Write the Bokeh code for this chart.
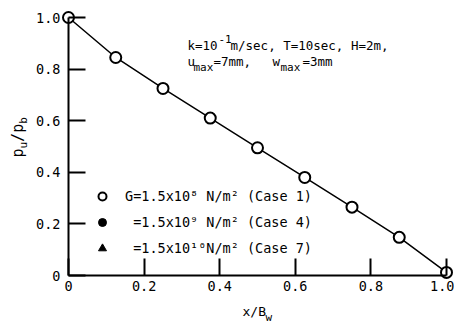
import math
from bokeh.plotting import figure
from bokeh.models import LinearAxis, FixedTicker, Label, Legend, LegendItem, Range1d
from bokeh.embed import file_html
from bokeh.resources import INLINE

# ---- data ----
# the three cases give coincident results; open circles (Case 1) are drawn on top
x_ratio = [0.0, 0.125, 0.25, 0.375, 0.5, 0.625, 0.75, 0.875, 1.0]
p_ratio = [1.0, 0.845, 0.725, 0.61, 0.495, 0.38, 0.265, 0.148, 0.012]
x_ticks = [0, 0.2, 0.4, 0.6, 0.8, 1.0]
y_ticks = [0, 0.2, 0.4, 0.6, 0.8, 1.0]
tick_labels = ["0", "0.2", "0.4", "0.6", "0.8", "1.0"]
legend_labels = [
    "G=1.5x10\u2078 N/m\u00b2 (Case 1)",
    "\u00a0=1.5x10\u2079 N/m\u00b2 (Case 4)",
    "\u00a0=1.5x10\u00b9\u2070N/m\u00b2 (Case 7)",
]

FONT = "DejaVu Sans Mono"
W, H = 454, 328
X0, XS = 68, 378   # canvas px of x=0, px per unit
Y0, YS = 275, 258  # canvas px of y=0, px per unit


def dx(cx):
    return (cx - X0) / XS


def dy(cy):
    return (Y0 - cy) / YS


p = figure(width=W, height=H, output_backend="svg", toolbar_location=None,
           x_range=Range1d(dx(0), dx(W)), y_range=Range1d(dy(H), dy(0)),
           x_axis_type=None, y_axis_type=None,
           min_border_left=0, min_border_right=0, min_border_top=0,
           min_border_bottom=0)
p.outline_line_color = None
p.grid.visible = False
p.background_fill_color = "white"
p.border_fill_color = "white"


def style_axis(ax, standoff):
    ax.axis_line_width = 2
    ax.axis_line_color = "black"
    ax.major_tick_line_width = 2
    ax.major_tick_line_color = "black"
    ax.major_tick_in = 17
    ax.major_tick_out = 0
    ax.minor_tick_line_color = None
    ax.major_label_text_font = FONT
    ax.major_label_text_font_size = "13.5px"
    ax.major_label_text_color = "black"
    ax.major_label_standoff = standoff


xaxis = LinearAxis(fixed_location=0, bounds=(0, 1),
                   ticker=FixedTicker(ticks=x_ticks),
                   major_label_overrides={t: l for t, l in zip(x_ticks, tick_labels)})
yaxis = LinearAxis(fixed_location=0, bounds=(0, 1),
                   ticker=FixedTicker(ticks=y_ticks),
                   major_label_overrides={t: l for t, l in zip(y_ticks, tick_labels)})
style_axis(xaxis, 5)
style_axis(yaxis, 8)
p.add_layout(xaxis, "below")
p.add_layout(yaxis, "left")

r7 = p.scatter(x_ratio, p_ratio, marker="triangle", size=9, fill_color="black",
               line_color="black", line_width=1)
r4 = p.scatter(x_ratio, p_ratio, marker="circle", size=10, fill_color="black",
               line_color="black", line_width=1)
p.line(x_ratio, p_ratio, line_color="black", line_width=1.5)
r1 = p.scatter(x_ratio, p_ratio, marker="circle", size=11, fill_color="white",
               line_color="black", line_width=2)

legend = Legend(items=[LegendItem(label=legend_labels[0], renderers=[r1]),
                       LegendItem(label=legend_labels[1], renderers=[r4]),
                       LegendItem(label=legend_labels[2], renderers=[r7])],
                location=(92, 67), glyph_width=20, glyph_height=26,
                label_height=26, spacing=0, padding=0, margin=0,
                label_standoff=13, border_line_color=None,
                background_fill_alpha=0, label_text_font=FONT,
                label_text_font_size="13.5px", label_text_color="black")
p.add_layout(legend, "center")


def txt(cx, cy, s, size, angle=0.0):
    p.add_layout(Label(x=dx(cx), y=dy(cy), text=s, text_font=FONT,
                       text_font_size=size, text_color="black",
                       text_align="left", text_baseline="alphabetic",
                       angle=angle))


# annotation
txt(187, 45, "k=10", "12.5px")
txt(218, 38, "-1", "11px")
txt(230, 45, "m/sec, T=10sec, H=2m,", "12.5px")
txt(187, 61, "u", "12.5px")
txt(193, 67, "max", "11px")
txt(213, 61, "=7mm,", "12.5px")
txt(272, 61, "w", "12.5px")
txt(280, 67, "max", "11px")
txt(302, 61, "=3mm", "12.5px")

# x axis title
txt(242, 311, "x/B", "13px")
txt(265, 317, "w", "11px")

# y axis title (rotated)
a = math.pi / 2
txt(17, 157, "p", "15px", a)
txt(23, 148, "u", "11px", a)
txt(17, 141.4, "/p", "15px", a)
txt(23, 123.3, "b", "11px", a)

open("out.html", "w").write(file_html(p, INLINE))
